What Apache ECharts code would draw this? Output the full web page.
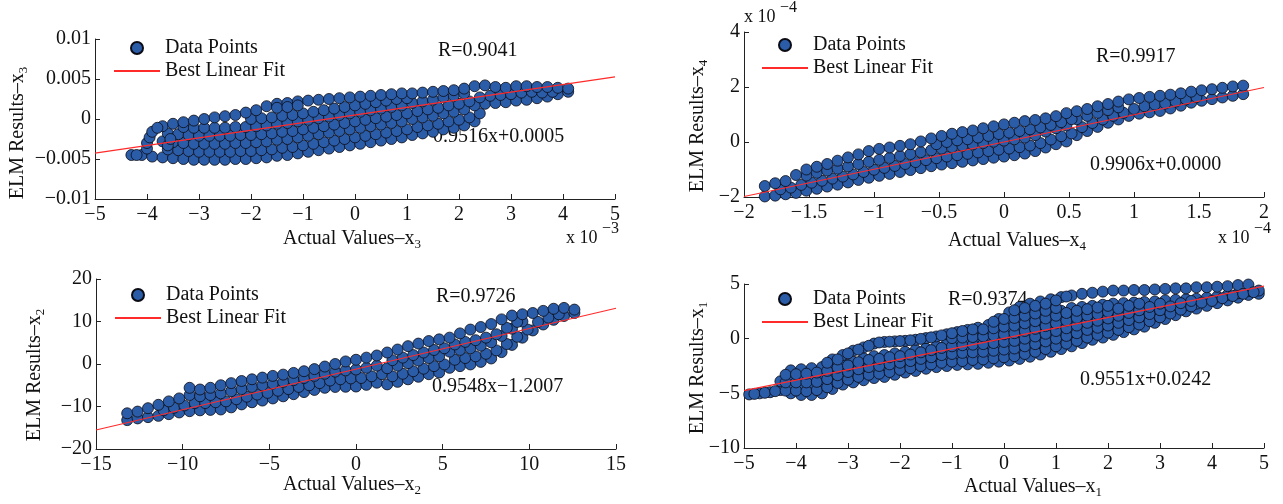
<!DOCTYPE html>
<html><head><meta charset="utf-8">
<script src="https://cdn.jsdelivr.net/npm/echarts@6/dist/echarts.min.js"></script>
<style>html,body{margin:0;padding:0;background:#fff}#c{width:1283px;height:504px}</style>
</head><body><div id="c"></div>
<script>
// ---------- Panel 1 (x3): x and y in units of 1e-3 ----------
const xs1 = [-4.3,-4.1,-3.9,-3.7,-3.5,-3.3,-3.1,-2.9,-2.7,-2.5,-2.3,-2.1,-1.9,-1.7,-1.5,-1.3,-1.1,-0.9,-0.7,-0.5,-0.3,-0.1,0.1,0.3,0.5,0.7,0.9,1.1,1.3,1.5,1.7,1.9,2.1,2.3,2.5,2.7,2.9,3.1,3.3,3.5,3.7,3.9,4.1];
const xs1b = [-4.2,-4.0,-3.8,-3.6,-3.4,-3.2,-3.0,-2.8,-2.6,-2.4,-2.2,-2.0,-1.8,-1.6,-1.4,-1.2,-1.0,-0.8,-0.6,-0.4,-0.2,0.0,0.2,0.4,0.6,0.8,1.0,1.2,1.4,1.6,1.8,2.0,2.2,2.4,2.6,2.8,3.0,3.2,3.4,3.6,3.8,4.0,4.2];
const p1r0 = [-4.5,-4.5,-4.7,-4.8,-4.9,-5.0,-5.1,-5.1,-5.1,-5.1,-5.0,-5.0,-4.9,-4.8,-4.6,-4.5,-4.3,-4.1,-3.9,-3.7,-3.5,-3.3,-3.1,-2.9,-2.7,-2.5,-2.3,-2.0,-1.8,-1.6,-1.3,-1.1,-0.8,-0.3,1.9,2.0,2.1,2.3,2.4,2.6,2.8,3.1,3.4];
const p1r1 = [null,null,null,-3.8,-3.9,-4.0,-4.1,-4.1,-4.1,-4.1,-4.0,-4.0,-3.9,-3.8,-3.6,-3.5,-3.3,-3.1,-2.9,-2.7,-2.5,-2.3,-2.1,-1.9,-1.7,-1.5,-1.3,-1.0,-0.8,-0.6,-0.3,-0.1,0.2,0.7,2.9,3.0,3.1,3.3,3.4,3.3,3.4,null,null];
const p1r2 = [null,null,null,-2.8,-2.9,-3.0,-3.1,-3.1,-3.1,-3.1,-3.0,-3.0,-2.9,-2.8,-2.6,-2.5,-2.3,-2.1,-1.9,-1.7,-1.5,-1.3,-1.1,-0.9,-0.7,-0.5,-0.3,0.0,0.2,0.4,0.7,0.9,1.2,1.7,null,null,null,null,null,null,null,null,null];
const p1r3 = [null,null,null,-1.8,-1.9,-2.0,-2.1,-2.1,-2.1,-2.1,-2.0,-2.0,-1.9,-1.8,-1.6,-1.5,-1.3,-1.1,-0.9,-0.7,-0.5,-0.3,-0.1,0.1,0.3,0.5,0.7,1.0,1.2,1.4,1.7,1.9,2.2,2.7,null,null,null,null,null,null,null,null,null];
const p1r4 = [null,null,null,null,null,-1.0,-1.1,-1.1,-1.1,-1.1,-1.0,-1.0,-0.9,-0.8,-0.6,-0.5,-0.3,-0.1,0.1,0.3,0.5,0.7,0.9,1.1,1.3,1.5,1.7,2.0,2.2,2.4,2.7,2.9,3.2,null,null,null,null,null,null,null,null,null,null];
const p1r5 = [null,null,null,null,null,null,null,null,null,null,null,0.0,0.1,0.2,0.4,0.5,0.7,0.9,1.1,1.3,1.5,1.7,1.9,2.1,2.3,2.5,2.6,null,null,null,null,null,null,null,null,null,null,null,null,null,null,null,null];
const p1top = [null,null,null,-0.9,-0.6,-0.4,-0.2,0.0,0.2,0.35,0.5,0.8,1.1,1.6,1.9,2.0,2.2,2.3,2.4,2.5,2.6,2.7,2.8,2.9,3.0,3.1,3.2,3.2,3.3,3.4,3.5,3.6,3.8,4.1,4.2,4.0,3.9,4.1,4.1,4.0,4.0,3.9,3.8];
const p1extra = [[-4.2,-4.5],[-4.0,-3.7],[-4.0,-3.0],[-3.95,-2.3],[-3.9,-1.6],[-3.8,-1.1],[-3.6,-3.3],[-3.55,-2.5],[-1.5,1.4],[-1.3,1.5],[-1.1,1.7]];
const fit1 = {slope: 0.9516, intercept: 0.0005, R: '0.9041'};

// ---------- Panel 2 (x4): x and y in units of 1e-4 ----------
const xs2 = [-1.84,-1.76,-1.68,-1.60,-1.52,-1.44,-1.36,-1.28,-1.20,-1.12,-1.04,-0.96,-0.88,-0.80,-0.72,-0.64,-0.56,-0.48,-0.40,-0.32,-0.24,-0.16,-0.08,0,0.08,0.16,0.24,0.32,0.40,0.48,0.56,0.64,0.72,0.80,0.88,0.96,1.04,1.12,1.20,1.28,1.36,1.44,1.52,1.60,1.68,1.76,1.84];
const xs2b = [-1.80,-1.72,-1.64,-1.56,-1.48,-1.40,-1.32,-1.24,-1.16,-1.08,-1.00,-0.92,-0.84,-0.76,-0.68,-0.60,-0.52,-0.44,-0.36,-0.28,-0.20,-0.12,-0.04,0.04,0.12,0.20,0.28,0.36,0.44,0.52,0.60,0.68,0.76,0.84,0.92,1.00,1.08,1.16,1.24,1.32,1.40,1.48,1.56,1.64,1.72,1.80,1.88];
const p2r0 = [-1.98,-1.95,-1.9,-1.85,-1.77,-1.7,-1.62,-1.55,-1.47,-1.38,-1.3,-1.23,-1.16,-1.09,-1.02,-0.95,-0.88,-0.82,-0.77,-0.72,-0.67,-0.62,-0.57,-0.53,-0.48,-0.42,-0.33,-0.2,-0.08,0.02,0.25,0.4,0.55,0.7,0.82,0.95,1.03,1.08,1.13,1.22,1.32,1.43,1.5,1.56,1.62,1.68,1.74];
const p2r1 = [null,-1.72,-1.66,-1.56,-1.48,-1.41,-1.33,-1.26,-1.18,-1.09,-1.01,-0.94,-0.87,-0.8,-0.73,-0.66,-0.59,-0.53,-0.48,-0.43,-0.38,-0.33,-0.28,-0.24,-0.19,-0.13,-0.04,0.09,0.21,0.31,0.54,0.69,0.82,0.95,1.06,1.2,1.3,1.36,1.4,1.47,1.55,1.63,null,null,null,null,null];
const p2r2 = [null,null,null,null,-1.22,-1.12,-1.04,-0.97,-0.89,-0.8,-0.72,-0.65,-0.58,-0.51,-0.44,-0.37,-0.3,-0.24,-0.19,-0.14,-0.09,-0.04,0.01,0.05,0.1,0.16,0.25,0.38,0.5,0.6,0.83,0.95,1.06,1.16,1.26,null,null,null,null,null,null,null,null,null,null,null,null];
const p2r3 = [null,null,null,null,null,null,null,null,null,null,null,null,null,null,null,null,-0.08,0.0,0.06,0.1,0.16,0.22,0.29,0.34,0.4,0.46,0.53,0.62,0.72,0.83,null,null,null,null,null,null,null,null,null,null,null,null,null,null,null,null,null];
const p2top = [-1.6,-1.5,-1.42,-1.2,-1.0,-0.9,-0.8,-0.68,-0.56,-0.45,-0.33,-0.25,-0.2,-0.14,-0.08,0.02,0.13,0.22,0.3,0.36,0.42,0.5,0.57,0.64,0.7,0.76,0.8,0.86,0.94,1.05,1.12,1.2,1.3,1.38,1.47,1.55,1.6,1.64,1.68,1.72,1.77,1.83,1.88,1.92,1.97,2.02,2.05];
const fit2 = {slope: 0.9906, intercept: 0.0000, R: '0.9917'};

// ---------- Panel 3 (x2) ----------
const xs3 = [-13.2,-12.6,-12.0,-11.4,-10.8,-10.2,-9.6,-9.0,-8.4,-7.8,-7.2,-6.6,-6.0,-5.4,-4.8,-4.2,-3.6,-3.0,-2.4,-1.8,-1.2,-0.6,0.0,0.6,1.2,1.8,2.4,3.0,3.6,4.2,4.8,5.4,6.0,6.6,7.2,7.8,8.4,9.0,9.6,10.2,10.8,11.4,12.0,12.6];
const xs3b = [-12.9,-12.3,-11.7,-11.1,-10.5,-9.9,-9.3,-8.7,-8.1,-7.5,-6.9,-6.3,-5.7,-5.1,-4.5,-3.9,-3.3,-2.7,-2.1,-1.5,-0.9,-0.3,0.3,0.9,1.5,2.1,2.7,3.3,3.9,4.5,5.1,5.7,6.3,6.9,7.5,8.1,8.7,9.3,9.9,10.5,11.1,11.7,12.3,12.9];
const p3r0 = [-13.2,-12.8,-12.5,-12.2,-11.8,-11.4,-11.1,-10.9,-10.8,-10.7,-10.2,-9.5,-9.0,-8.6,-8.1,-7.6,-7.1,-6.6,-6.1,-5.6,-5.4,-5.35,-5.3,-4.9,-4.4,-4.8,-4.2,-3.6,-3.0,-2.4,-2.0,-0.9,-0.5,-0.1,0.5,1.3,2.8,4.5,6.2,7.9,9.3,10.4,11.3,12.0];
const p3r1 = [null,null,null,-10.9,-10.3,-9.75,-9.2,-9.2,-9.0,-8.8,-8.3,-7.7,-7.2,-6.8,-6.3,-5.9,-5.4,-5.0,-4.5,-3.9,-3.6,-3.4,-3.3,-2.9,-2.4,-2.9,-2.3,-1.7,-1.1,-0.5,-0.1,1.0,1.4,1.8,2.4,3.2,4.7,6.4,8.1,9.9,10.9,11.7,null,null];
const p3r2 = [null,null,null,null,null,null,-7.3,-7.6,-7.3,-6.9,-6.4,-5.9,-5.4,-5.0,-4.6,-4.2,-3.8,-3.3,-2.8,-2.3,-1.8,-1.5,-1.3,-0.9,-0.4,-1.0,-0.4,0.2,0.8,1.4,1.8,2.9,3.3,3.7,4.3,5.1,6.6,8.3,10.0,null,null,null,null,null];
const p3r3 = [null,null,null,null,null,null,null,null,null,null,null,null,null,null,null,null,null,null,null,null,null,null,null,null,null,0.9,1.5,2.1,2.7,3.3,3.7,4.6,5.2,5.6,6.2,7.0,8.5,9.9,null,null,null,null,null,null];
const p3top = [-11.6,-11.2,-10.4,-9.6,-8.8,-8.1,-5.6,-6.0,-5.6,-5.0,-4.5,-4.0,-3.6,-3.2,-2.8,-2.5,-2.1,-1.7,-1.2,-0.6,0.0,0.6,1.0,1.5,2.0,2.7,3.4,4.2,4.8,5.4,5.8,6.2,7.2,8.1,8.7,9.4,10.5,11.4,11.7,12.0,12.5,13.0,13.2,12.8];
const fit3 = {slope: 0.9548, intercept: -1.2007, R: '0.9726'};

// ---------- Panel 4 (x1): each column = [x, y1, y2, ...] ----------
const p4cols = [
[-4.9,-5.1],[-4.7,-5.0],[-4.5,-4.9],[-4.3,-4.7,-3.9],
[-4.1,-5.0,-4.3,-3.6,-2.9],[-3.9,-5.15,-4.4,-3.6,-2.8],[-3.7,-5.15,-4.4,-3.6,-2.7],[-3.5,-5.0,-4.2,-3.4,-2.6],
[-3.3,-4.6,-3.9,-3.2,-2.5,-1.9],[-3.1,-4.2,-3.5,-2.8,-2.2,-1.5],[-2.9,-4.0,-3.3,-2.6,-2.1,-1.1],[-2.7,-3.8,-3.1,-2.4,-1.8,-0.8],
[-2.5,-3.6,-2.9,-2.2,-1.6,-0.45],[-2.3,-3.5,-2.8,-2.1,-1.5,-0.3],[-2.1,-3.3,-2.6,-1.95,-1.35,-0.25],[-1.9,-3.1,-2.45,-1.8,-1.2,-0.2],
[-1.7,-2.95,-2.3,-1.65,-1.05,-0.1],[-1.5,-2.75,-2.1,-1.5,-0.9,0.05],[-1.3,-2.6,-1.95,-1.3,-0.7,0.2],[-1.1,-2.5,-1.85,-1.15,-0.45,0.4],
[-0.9,-2.4,-1.7,-1.0,-0.3,0.6],[-0.7,-2.35,-1.6,-0.85,-0.1,0.8],[-0.5,-2.3,-1.6,-0.9,-0.2,0.45,1.0],[-0.3,-2.2,-1.5,-0.8,-0.1,0.6,1.25],
[-0.1,-2.1,-1.4,-0.7,0.0,0.65,1.25,1.8],[0.1,-2.0,-1.3,-0.6,0.1,0.8,1.5,2.4],[0.3,-1.85,-1.15,-0.45,0.25,0.95,1.65,2.3,2.9],
[0.5,-1.65,-0.95,-0.25,0.45,1.15,1.85,2.55,3.2],[0.7,-1.45,-0.75,-0.05,0.65,1.35,2.05,2.75,3.4],[0.9,-1.2,-0.5,0.2,0.9,1.6,2.3,2.95,3.6],
[1.1,-0.95,-0.25,0.45,1.15,1.85,2.55,3.8],[1.3,-0.7,0.0,0.7,1.4,2.1,2.8,3.95],[1.5,-0.4,0.3,1.0,1.6,2.25,2.9,4.1],
[1.7,-0.1,0.55,1.2,1.8,2.4,3.0,4.2],[1.9,0.1,0.75,1.35,1.95,2.55,3.1,4.3],[2.1,0.35,1.0,1.6,2.2,2.7,3.2,4.4],
[2.3,0.6,1.25,1.9,2.6,3.25,4.4],[2.5,0.85,1.5,2.1,2.7,3.3,4.45],[2.7,1.1,1.8,2.5,3.35,4.45],[2.9,1.45,2.1,2.75,3.4,4.5],
[3.1,1.8,2.4,2.95,3.5,4.55],[3.3,2.15,2.85,3.55,4.6],[3.5,2.5,3.05,3.6,4.6],[3.7,2.75,3.2,3.65,4.7],
[3.9,3.0,3.75,4.7],[4.1,3.25,3.85,4.75],[4.3,3.5,4.0,4.8],[4.5,3.75,4.15,4.9],[4.7,4.0,4.35,4.95],[4.9,4.1,4.4]
];
const p4colsB = [
[-4.8,-5.05],[-4.6,-4.95],[-4.4,-4.8],[-4.2,-4.75,-4.0,-3.3],[-4.0,-4.75,-4.0,-3.25],[-3.8,-4.8,-4.0,-3.2],[-3.6,-4.7,-3.95,-3.1],
[-3.4,-4.45,-3.7,-2.95,-2.2],[-3.2,-4.05,-3.35,-2.65,-1.9],[-3.0,-3.75,-3.05,-2.45,-1.35],[-2.8,-3.5,-2.8,-2.15,-1.0],
[-2.6,-3.3,-2.6,-1.95,-0.65],[-2.4,-3.2,-2.5,-1.85,-0.35],[-2.2,-3.05,-2.35,-1.7,-0.28],[-2.0,-2.85,-2.2,-1.6,-0.22],
[-1.8,-2.7,-2.05,-1.45,-0.15],[-1.6,-2.5,-1.85,-1.25,-0.02],[-1.4,-2.35,-1.7,-1.05,0.12],[-1.2,-2.2,-1.5,-0.85,0.3],
[-1.0,-2.1,-1.4,-0.7,0.05,0.5],[-0.8,-2.05,-1.3,-0.6,0.1,0.7],[-0.6,-1.95,-1.25,-0.55,0.15,0.85],[-0.4,-1.9,-1.2,-0.5,0.2,0.85],
[-0.2,-1.8,-1.1,-0.4,0.3,0.95,1.55],[0.0,-1.7,-1.0,-0.3,0.4,1.1,1.8],[0.2,-1.6,-0.9,-0.2,0.5,1.2,1.9,2.6],
[0.4,-1.4,-0.7,0.0,0.7,1.4,2.1,2.8],[0.6,-1.2,-0.5,0.2,0.9,1.6,2.3,3.0],[0.8,-0.95,-0.25,0.45,1.15,1.85,2.55,3.2],
[1.0,-0.7,0.0,0.7,1.4,2.1,2.8,3.5],[1.2,-0.45,0.25,0.95,1.65,2.35,3.85],[1.4,-0.2,0.5,1.2,1.9,2.55],
[1.6,0.1,0.8,1.45,2.1,2.7],[1.8,0.35,1.0,1.65,2.25,2.85],[2.0,0.55,1.2,1.85,2.45,3.0],[2.2,0.8,1.45,2.1,2.75],
[2.4,1.05,1.7,2.35,3.0],[2.6,1.3,1.95,2.6,3.2],[2.8,1.6,2.25,2.9],[3.0,1.95,2.6,3.2],[3.2,2.3,2.95],
[3.4,2.65,3.25],[3.6,2.95,3.45],[3.8,3.3],[4.0,3.45],[4.2,3.7],[4.4,3.9],[4.6,4.1],[4.8,4.25]
];
const fit4 = {slope: 0.9551, intercept: 0.0242, R: '0.9374'};

// ---------- Labels ----------
const xTitles = ['Actual Values–x', 'Actual Values–x', 'Actual Values–x', 'Actual Values–x'];
const yTitles = ['ELM Results–x', 'ELM Results–x', 'ELM Results–x', 'ELM Results–x'];
const subs = ['3', '4', '2', '1'];
const legendNames = ['Data Points', 'Best Linear Fit'];

// ---------- Build ----------
const FONT = '"Liberation Serif","Times New Roman",serif';
const BLUE = '#2b5ca8';
const RED = '#ff2b2b';
const AXC = '#222';
const minus = s => String(s).replace('-', '−');

function rowsToPoints(pairs) {
  const pts = [];
  pairs.forEach(([xs, r]) => r.forEach((y, i) => { if (y !== null && xs[i] !== undefined) pts.push([xs[i], y]); }));
  return pts;
}
function colsToPoints(cols) {
  const pts = [];
  cols.forEach(c => c.slice(1).forEach(y => pts.push([c[0], y])));
  return pts;
}

const panels = [
  { grid:{left:95, top:39, width:520, height:160}, x:[-5,5,1], y:[-10,10,5], unit:1e-3,
    pts: rowsToPoints([[xs1,p1r0],[xs1b,p1r1],[xs1,p1r2],[xs1b,p1r3],[xs1,p1r4],[xs1b,p1r5],[xs1,p1top]]).concat(p1extra), fit:fit1,
    yfmt: v => minus(+(v/1000).toFixed(4)), eq:'0.9516x+0.0005' },
  { grid:{left:744, top:32, width:520, height:165}, x:[-2,2,0.5], y:[-2,4,2], unit:1e-4,
    pts: rowsToPoints([[xs2,p2r0],[xs2b,p2r1],[xs2,p2r2],[xs2b,p2r3],[xs2,p2top]]), fit:fit2, yfmt: v => minus(v), eq:'0.9906x+0.0000' },
  { grid:{left:96, top:279, width:520, height:170}, x:[-15,15,5], y:[-20,20,10], unit:1,
    pts: rowsToPoints([[xs3,p3r0],[xs3b,p3r1],[xs3,p3r2],[xs3b,p3r3],[xs3,p3top]]), fit:fit3, yfmt: v => minus(v), eq:'0.9548x−1.2007' },
  { grid:{left:744, top:284, width:520, height:164}, x:[-5,5,1], y:[-10,5,5], unit:1,
    pts: colsToPoints(p4cols).concat(colsToPoints(p4colsB)), fit:fit4, yfmt: v => minus(v), eq:'0.9551x+0.0242' }
];

const grid = [], xAxis = [], yAxis = [], series = [], legend = [], graphic = [];
const axisCommon = {
  type:'value',
  axisLine:{show:true, onZero:false, lineStyle:{color:AXC, width:1}},
  axisTick:{show:true, inside:true, length:5, lineStyle:{color:AXC, width:1}},
  splitLine:{show:false}
};
const legendPos = [[113,38],[761,35],[114,285],[761,289]];
const rPos = [[438,51],[1096,57],[436,297],[948,300]];
const eqPos = [[433,137],[1090,165],[432,387],[1080,380]];
const xtPos = [[352,239],[1017,241],[352,485],[1033,487]];
const ytPos = [[18,133],[698,126],[35,375],[698,368]];

panels.forEach((p, i) => {
  grid.push(Object.assign({containLabel:false}, p.grid));
  xAxis.push(Object.assign({}, axisCommon, {gridIndex:i, min:p.x[0], max:p.x[1], interval:p.x[2],
    axisLabel:{margin:6, color:'#111', fontSize:20, fontFamily:FONT, formatter: v => minus(v)}}));
  yAxis.push(Object.assign({}, axisCommon, {gridIndex:i, min:p.y[0], max:p.y[1], interval:p.y[2],
    axisLabel:{margin:4, color:'#111', fontSize:20, fontFamily:FONT, formatter: p.yfmt}}));
  series.push({type:'scatter', name:legendNames[0], xAxisIndex:i, yAxisIndex:i, data:p.pts,
    symbol:'circle', symbolSize:11, silent:true, z:2,
    itemStyle:{color:BLUE, borderColor:'#0b0b14', borderWidth:0.8, opacity:1}});
  const b = p.fit.intercept / p.unit;
  const x0 = p.x[0], x1 = p.x[1];
  series.push({type:'line', name:legendNames[1], xAxisIndex:i, yAxisIndex:i,
    data:[[x0, p.fit.slope*x0 + b],[x1, p.fit.slope*x1 + b]], symbol:'none', silent:true, z:3,
    itemStyle:{color:RED}, lineStyle:{color:RED, width:1.2}});
  legend.push({left:legendPos[i][0], top:legendPos[i][1], orient:'vertical', padding:0, itemGap:3,
    itemWidth:46, itemHeight:12, selectedMode:false,
    data:[legendNames[0], {name:legendNames[1], itemStyle:{opacity:0}}],
    textStyle:{fontFamily:FONT, fontSize:20, color:'#111'}});
  const txt = (x, y, t) => ({type:'text', x, y, silent:true, style:{text:t, fontFamily:FONT, fontSize:20, fill:'#111', align:'left', verticalAlign:'middle'}});
  graphic.push(txt(rPos[i][0], rPos[i][1], 'R=' + p.fit.R));
  graphic.push(txt(eqPos[i][0], eqPos[i][1], p.eq));
  const rich = {a:{fontFamily:FONT, fontSize:20, lineHeight:24, fill:'#111'}, s:{fontFamily:FONT, fontSize:13, lineHeight:11, verticalAlign:'bottom', fill:'#111'}};
  graphic.push({type:'text', x:xtPos[i][0], y:xtPos[i][1], silent:true,
    style:{text:'{a|' + xTitles[i] + '}{s|' + subs[i] + '}', rich, align:'center', verticalAlign:'middle'}});
  graphic.push({type:'text', x:ytPos[i][0], y:ytPos[i][1], rotation:Math.PI/2, silent:true,
    style:{text:'{a|' + yTitles[i] + '}{s|' + subs[i] + '}', rich, align:'center', verticalAlign:'middle'}});
});

// exponent markers
const expo = (x, y, e) => [
  {type:'text', x, y, silent:true, style:{text:'x 10', fontFamily:FONT, fontSize:18, fill:'#111', align:'left', verticalAlign:'middle'}},
  {type:'text', x:x+36, y:y-9, silent:true, style:{text:e, fontFamily:FONT, fontSize:16, fill:'#111', align:'left', verticalAlign:'middle'}}
];
graphic.push(...expo(566, 238, '−3'), ...expo(744, 17, '−4'), ...expo(1218, 238, '−4'));

const chart = echarts.init(document.getElementById('c'), null, {renderer:'canvas'});
chart.setOption({animation:false, backgroundColor:'#fff', grid, xAxis, yAxis, series, legend, graphic});
</script>
</body></html>
